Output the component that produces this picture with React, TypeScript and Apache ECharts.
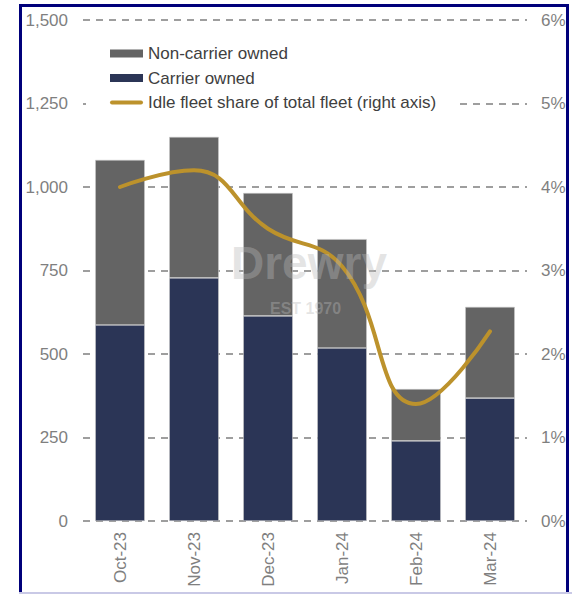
import React, { useEffect, useRef } from "react";
import * as echarts from "echarts";

const categories = ["Oct-23", "Nov-23", "Dec-23", "Jan-24", "Feb-24", "Mar-24"];
const carrierOwned = [587, 728, 614, 518, 240, 368];
const nonCarrierOwned = [494, 422, 368, 326, 155, 273];
const idleShare = [4.0, 4.2, 3.5, 3.05, 1.4, 2.27];
const leftTicks = { min: 0, max: 1500, interval: 250 };
const rightTicks = { min: 0, max: 6, interval: 1 };

const FONT = "'Liberation Sans', Arial, sans-serif";
const GRAY = "#646464";
const NAVY = "#2B3556";
const GOLD = "#BC922C";

export default function App() {
  const ref = useRef<HTMLDivElement>(null);
  useEffect(() => {
    document.body.style.margin = "0";
    const chart = echarts.init(ref.current!, null, { renderer: "svg" });
    chart.setOption({
      animation: false,
      backgroundColor: "#ffffff",
      textStyle: { fontFamily: FONT },
      grid: { left: 83, right: 45, top: 20, bottom: 73 },
      legend: {
        orient: "vertical",
        left: 86,
        top: 40,
        itemWidth: 33,
        itemHeight: 8,
        itemGap: 7.5,
        backgroundColor: "#ffffff",
        padding: [5, 20, 5, 24],
        itemStyle: { borderWidth: 0 },
        textStyle: { color: "#404040", fontSize: 17, fontFamily: FONT },
        data: [
          { name: "Non-carrier owned", icon: "rect" },
          { name: "Carrier owned", icon: "rect" },
          {
            name: "Idle fleet share of total fleet (right axis)",
            icon: "path://M2,0 L31,0 A2,2 0 0 1 31,4 L2,4 A2,2 0 0 1 2,0 Z",
          },
        ],
      },
      graphic: [
        {
          type: "text",
          left: 231,
          top: 240,
          z: 10,
          silent: true,
          style: {
            text: "Drewry",
            fill: "rgba(185,185,185,0.38)",
            font: `bold 46px ${FONT}`,
          },
        },
        {
          type: "text",
          left: 270,
          top: 300,
          z: 10,
          silent: true,
          style: {
            text: "EST 1970",
            fill: "rgba(185,185,185,0.38)",
            font: `bold 16px ${FONT}`,
          },
        },
      ],
      xAxis: {
        type: "category",
        data: categories,
        axisLine: { show: false },
        axisTick: { show: false },
        axisLabel: {
          rotate: 90,
          color: "#7f7f7f",
          fontSize: 17,
          margin: 11,
          fontFamily: FONT,
        },
      },
      yAxis: [
        {
          type: "value",
          ...leftTicks,
          axisLine: { show: false },
          axisTick: { show: false },
          axisLabel: {
            color: "#7f7f7f",
            fontSize: 17,
            margin: 15,
            fontFamily: FONT,
            formatter: (v: number) => v.toLocaleString("en-US"),
          },
          splitLine: {
            show: true,
            lineStyle: { color: "#7f7f7f", width: 1.5, type: [7, 6] },
          },
        },
        {
          type: "value",
          ...rightTicks,
          position: "right",
          axisLine: { show: false },
          axisTick: { show: false },
          splitLine: { show: false },
          axisLabel: {
            color: "#7f7f7f",
            fontSize: 17,
            margin: 14,
            fontFamily: FONT,
            formatter: "{value}%",
          },
        },
      ],
      series: [
        {
          name: "Carrier owned",
          type: "bar",
          stack: "fleet",
          barWidth: "67%",
          data: carrierOwned,
          itemStyle: { color: NAVY, borderColor: "#c8c8c8", borderWidth: 0.6 },
          z: 2,
        },
        {
          name: "Non-carrier owned",
          type: "bar",
          stack: "fleet",
          barWidth: "67%",
          data: nonCarrierOwned,
          itemStyle: { color: GRAY, borderColor: "#c8c8c8", borderWidth: 0.6 },
          z: 2,
        },
        {
          name: "Idle fleet share of total fleet (right axis)",
          type: "line",
          yAxisIndex: 1,
          data: idleShare,
          smooth: 0.45,
          symbol: "none",
          itemStyle: { color: GOLD },
          lineStyle: { color: GOLD, width: 4, cap: "round" },
          z: 5,
        },
      ],
    });
    return () => chart.dispose();
  }, []);

  return (
    <div style={{ position: "relative", width: 572, height: 594, overflow: "hidden" }}>
      <div ref={ref} style={{ position: "absolute", left: 0, top: 0, width: 572, height: 594 }} />
      <div
        style={{
          position: "absolute",
          left: 19,
          top: 4,
          width: 550,
          height: 620,
          boxSizing: "border-box",
          border: "3.5px solid #00007a",
          pointerEvents: "none",
        }}
      />
      <div
        style={{
          position: "absolute",
          left: 19,
          top: 592,
          width: 553,
          height: 2,
          background: "#c9c9e6",
          pointerEvents: "none",
        }}
      />
    </div>
  );
}
